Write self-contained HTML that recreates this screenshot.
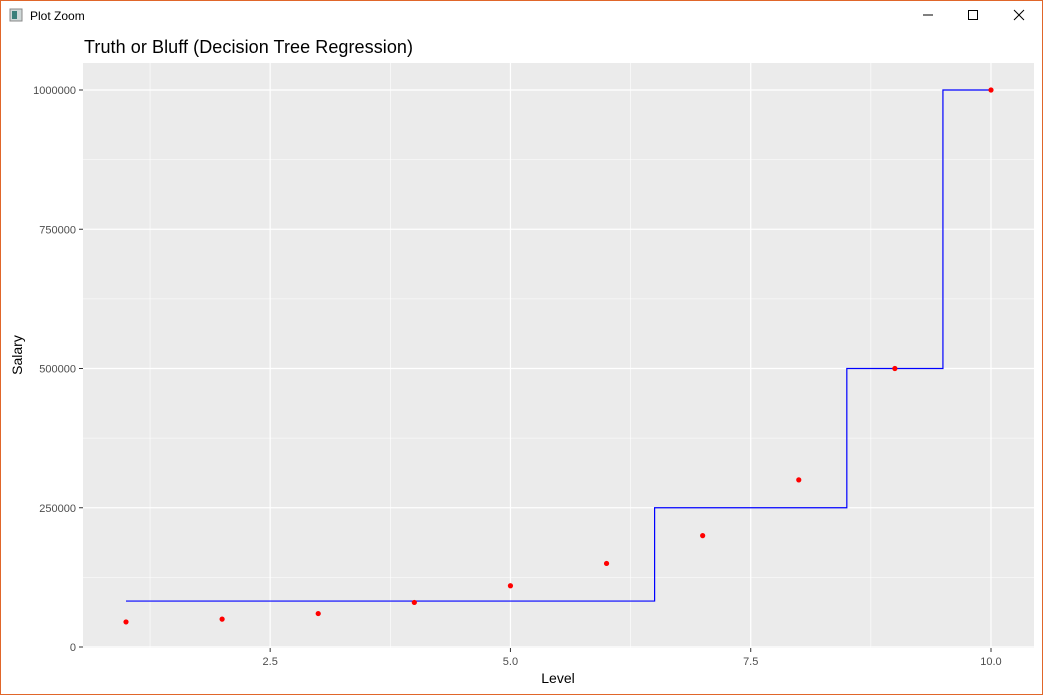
<!DOCTYPE html>
<html><head><meta charset="utf-8"><style>
body{margin:0;width:1043px;height:695px;overflow:hidden;background:#fff;font-family:"Liberation Sans",sans-serif}
#win{position:absolute;left:0;top:0;width:1041px;height:693px;border:1px solid #e0662a;}
</style></head><body>
<div id="win"></div>
<svg width="1043" height="695" style="position:absolute;left:0;top:0">
<g>
<rect x="10" y="9" width="12" height="12" fill="#cfd8d8" stroke="#888" stroke-width="1"/>
<rect x="12" y="11" width="5" height="8" fill="#3a7f7a"/>
<text x="30" y="20" font-size="12" fill="#000">Plot Zoom</text>
<line x1="923" y1="15" x2="933" y2="15" stroke="#000"/>
<rect x="968.5" y="10.5" width="9" height="9" fill="none" stroke="#000"/>
<path d="M1014 10 L1024 20 M1024 10 L1014 20" stroke="#000"/>
</g>
<text x="84" y="53" font-size="18" textLength="329" fill="#000">Truth or Bluff (Decision Tree Regression)</text>
<rect x="83" y="63" width="951" height="585" fill="#ebebeb"/>
<g id="grid"></g><g id="axes"></g><g id="marks"></g>
<text x="558" y="683" font-size="14" text-anchor="middle" fill="#000">Level</text>
<text transform="translate(22,355) rotate(-90)" font-size="14" text-anchor="middle" fill="#000">Salary</text>
</svg>
<script>
const levels=[1,2,3,4,5,6,7,8,9,10];
const salaries=[45000,50000,60000,80000,110000,150000,200000,300000,500000,1000000];
const stepX=[1,6.5,6.5,8.5,8.5,9.5,9.5,10];
const stepY=[82500,82500,250000,250000,500000,500000,1000000,1000000];
const xTicks=[2.5,5.0,7.5,10.0];
const xTickLabels=["2.5","5.0","7.5","10.0"];
const yTicks=[0,250000,500000,750000,1000000];
const yTickLabels=["0","250000","500000","750000","1000000"];
const NS="http://www.w3.org/2000/svg";
const X=v=>126+(v-1)*96.11;
const Y=v=>647-v*0.000557;
function mk(t,a,p){const e=document.createElementNS(NS,t);for(const k in a)e.setAttribute(k,a[k]);p.appendChild(e);return e;}
const G=document.getElementById('grid'),A=document.getElementById('axes'),M=document.getElementById('marks');
for(let i=0;i<yTicks.length;i++){
 if(i<yTicks.length-1){const l=mk('line',{x1:83,x2:1034,y1:Y((yTicks[i]+yTicks[i+1])/2),y2:Y((yTicks[i]+yTicks[i+1])/2),stroke:'#fff','stroke-width':0.6},G);
 }
 const g=mk('line',{x1:83,x2:1034,y1:Y(yTicks[i]),y2:Y(yTicks[i]),stroke:'#fff','stroke-width':1.2},G);
 
 mk('line',{x1:79,x2:83,y1:Y(yTicks[i]),y2:Y(yTicks[i]),stroke:'#333'},A);
 const t=mk('text',{x:76,y:Y(yTicks[i])+4,'font-size':11,'text-anchor':'end',fill:'#4d4d4d'},A);t.textContent=yTickLabels[i];
 
}
const xMinor=[1.25,3.75,6.25,8.75];
xMinor.forEach(v=>{const l=mk('line',{x1:X(v),x2:X(v),y1:63,y2:648,stroke:'#fff','stroke-width':0.6},G);
 });
for(let i=0;i<xTicks.length;i++){
 const g=mk('line',{x1:X(xTicks[i]),x2:X(xTicks[i]),y1:63,y2:648,stroke:'#fff','stroke-width':1.2},G);
 
 mk('line',{x1:X(xTicks[i]),x2:X(xTicks[i]),y1:648,y2:652,stroke:'#333'},A);
 const t=mk('text',{x:X(xTicks[i]),y:665,'font-size':11,'text-anchor':'middle',fill:'#4d4d4d'},A);t.textContent=xTickLabels[i];
 
}
const pl=mk('polyline',{points:stepX.map((v,i)=>X(v)+','+Y(stepY[i])).join(' '),fill:'none',stroke:'#0000ff','stroke-width':1.2},M);

levels.forEach((v,i)=>{const c=mk('circle',{cx:X(v),cy:Y(salaries[i]),r:2.6,fill:'#ff0000'},M);
 });
</script>
</body></html>
